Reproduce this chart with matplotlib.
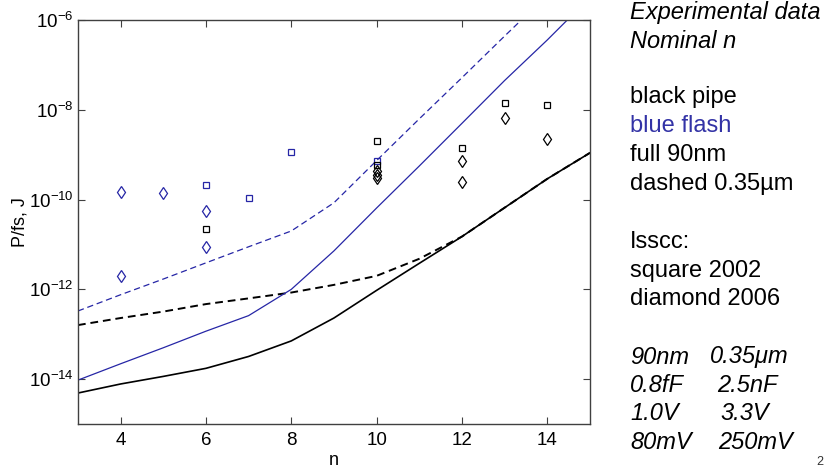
import matplotlib.pyplot as plt

plt.rcParams['font.family'] = ['Liberation Sans', 'DejaVu Sans']
plt.rcParams['mathtext.fontset'] = 'custom'
plt.rcParams['mathtext.rm'] = 'Liberation Sans'
plt.rcParams['mathtext.it'] = 'Liberation Sans:italic'

# model curves, one value per n
n = [3, 4, 5, 6, 7, 8, 9, 10, 11, 12, 13, 14, 15]
pipe_90 = [4.9e-15, 7.8e-15, 1.15e-14, 1.74e-14, 3.2e-14, 7.1e-14, 2.3e-13,
           9.5e-13, 3.8e-12, 1.5e-11, 6.6e-11, 2.9e-10, 1.1e-09]
pipe_035 = [1.6e-13, 2.3e-13, 3.2e-13, 4.7e-13, 6.3e-13, 8.5e-13, 1.26e-12,
            2.0e-12, 4.8e-12, 1.5e-11, 6.6e-11, 2.9e-10, 1.1e-09]
flash_90 = [9.5e-15, 2.2e-14, 5.0e-14, 1.17e-13, 2.6e-13, 1.0e-12, 7.2e-12,
            6.5e-11, 5.6e-10, 5.0e-09, 4.5e-08, 3.6e-07, 3.2e-06]
flash_035 = [3.3e-13, 7.6e-13, 1.7e-12, 3.9e-12, 8.9e-12, 2.0e-11, 8.5e-11,
             7.4e-10, 6.3e-09, 5.2e-08, 4.4e-07, 3.6e-06, 3.2e-05]

# ISSCC points
flash_sq_n = [6, 7, 8, 10]
flash_sq = [2.1e-10, 1.1e-10, 1.15e-09, 7.4e-10]
flash_di_n = [4, 4, 5, 6, 6]
flash_di = [1.5e-10, 2.0e-12, 1.4e-10, 5.5e-11, 8.9e-12]
pipe_sq_n = [6, 10, 10, 12, 13, 14]
pipe_sq = [2.2e-11, 2.0e-09, 6.0e-10, 1.44e-09, 1.4e-08, 1.3e-08]
pipe_di_n = [10, 10, 10, 12, 12, 13, 14]
pipe_di = [4.4e-10, 3.6e-10, 3.1e-10, 7.4e-10, 2.45e-10, 6.6e-09, 2.3e-09]

xticks = [4, 6, 8, 10, 12, 14]
yticks = [1e-14, 1e-12, 1e-10, 1e-8, 1e-6]

blue = '#2626a6'

fig = plt.figure(figsize=(8.25, 4.68), dpi=100)
ax = fig.add_axes([0.0945, 0.094, 0.6205, 0.863])

ax.plot(n, pipe_90, color='black', lw=1.2)
ax.plot(n, pipe_035, color='black', lw=1.4, ls=(0, (4, 2.5)))
ax.plot(n, flash_90, color=blue, lw=0.9)
ax.plot(n, flash_035, color=blue, lw=0.9, ls=(0, (5, 3)))

sq = dict(ls='none', marker='s', ms=5, mfc='none', mew=0.9)
di = dict(ls='none', marker='d', ms=6.5, mfc='none', mew=0.9)
ax.plot(flash_sq_n, flash_sq, mec=blue, **sq)
ax.plot(flash_di_n, flash_di, mec=blue, **di)
ax.plot(pipe_sq_n, pipe_sq, mec='black', **sq)
ax.plot(pipe_di_n, pipe_di, mec='black', **di)

ax.set_yscale('log')
ax.set_xlim(3, 15)
ax.set_ylim(1e-15, 1e-6)
ax.set_xticks(xticks)
ax.set_yticks(yticks)
ax.minorticks_off()
ax.tick_params(direction='in', length=5, width=0.8, top=True, right=True,
               labelsize=13.5, color='#404040')
ax.tick_params(axis='x', pad=6)
ax.tick_params(axis='y', pad=3)
for s in ax.spines.values():
    s.set_color('#404040')
    s.set_linewidth(1.0)

ax.set_xlabel('n', fontsize=13, labelpad=2)
ax.set_ylabel('P/fs, J', fontsize=13, labelpad=0)

# right-hand notes
def note(px, py, s, color='black', style='normal'):
    fig.text(px / 825, 1 - py / 468, s, fontsize=17, color=color,
             style=style, va='center', ha='left')

note(630, 13, 'Experimental data', style='italic')
note(630, 41, 'Nominal n', style='italic')
note(630, 97, 'black pipe')
note(630, 126, 'blue flash', color='#3333a6')
note(630, 155, 'full 90nm')
note(630, 184, 'dashed 0.35\u00b5m')
note(630, 242, 'Isscc:')
note(630, 271, 'square 2002')
note(630, 299, 'diamond 2006')

left_col = ['90nm', '0.8fF', '1.0V', '80mV']
right_col = ['0.35\u03bcm', '2.5nF', '3.3V', '250mV']
right_x = [710, 717, 720, 718]
for i in range(4):
    y = 357 + i * 28.5
    note(630, y, left_col[i], style='italic')
    note(right_x[i], y, right_col[i], style='italic')

fig.text(816 / 825, 1 - 456 / 468, '2', fontsize=9, color='#333333',
         va='top', ha='left')

fig.savefig('out.png', dpi=100)
